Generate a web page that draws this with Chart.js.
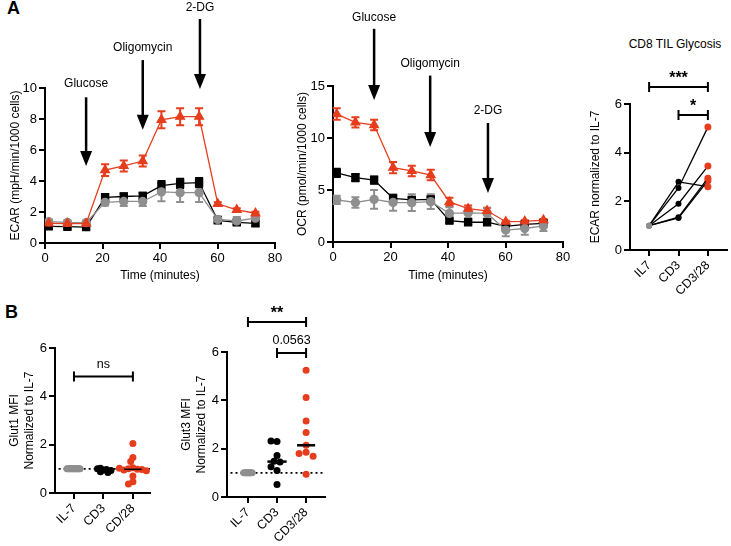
<!DOCTYPE html>
<html>
<head>
<meta charset="utf-8">
<script src="https://cdn.jsdelivr.net/npm/chart.js@4.4.0/dist/chart.umd.min.js"></script>
<style>
body{margin:0;background:#fff;width:731px;height:546px;position:relative;overflow:hidden;font-family:'Liberation Sans',Arial,Helvetica,sans-serif}
canvas{position:absolute}
.lbl{position:absolute;color:#000}
</style>
</head>
<body>
<div class="lbl" style="left:7px;top:-2px;font-size:18px;font-weight:bold">A</div>
<div class="lbl" style="left:5px;top:302px;font-size:18px;font-weight:bold">B</div>
<div class="lbl" style="left:605px;top:37px;width:140px;text-align:center;font-size:12px">CD8 TIL Glycosis</div>
<canvas id="ecar"></canvas>
<canvas id="ocr"></canvas>
<canvas id="cd8"></canvas>
<canvas id="glut1"></canvas>
<canvas id="glut3"></canvas>
<script>
// seahorse time points (minutes)
var timeMin = [1.3, 7.8, 14.3, 20.9, 27.4, 34, 40.5, 47, 53.6, 60.1, 66.7, 73.2];

// ECAR
var ecarRed = [1.27, 1.25, 1.25, 4.7, 4.97, 5.29, 7.95, 8.15, 8.15, 2.53, 2.14, 1.92];
var ecarRedErr = [0.12, 0.1, 0.1, 0.38, 0.35, 0.35, 0.55, 0.55, 0.55, 0.1, 0.1, 0.1];
var ecarBlack = [1.07, 1.05, 1.03, 2.95, 3.0, 3.04, 3.7, 3.85, 3.9, 1.46, 1.33, 1.27];
var ecarBlackErr = [0.15, 0.12, 0.12, 0.2, 0.2, 0.2, 0.3, 0.3, 0.3, 0.15, 0.15, 0.15];
var ecarGray = [1.37, 1.33, 1.32, 2.62, 2.68, 2.68, 3.3, 3.25, 3.25, 1.52, 1.42, 1.6];
var ecarGrayErr = [0.15, 0.12, 0.12, 0.2, 0.3, 0.3, 0.6, 0.6, 0.6, 0.2, 0.25, 0.3];

// OCR
var ocrRed = [12.3, 11.5, 11.25, 7.15, 6.83, 6.44, 3.85, 3.2, 3.0, 1.95, 1.98, 2.1];
var ocrRedErr = [0.55, 0.5, 0.5, 0.55, 0.5, 0.5, 0.4, 0.3, 0.3, 0.1, 0.1, 0.1];
var ocrBlack = [6.65, 6.2, 5.96, 4.2, 4.05, 4.1, 2.05, 1.9, 1.9, 1.5, 1.7, 1.8];
var ocrBlackErr = [0.4, 0.35, 0.35, 0.3, 0.25, 0.25, 0.2, 0.2, 0.2, 0.2, 0.2, 0.2];
var ocrGray = [4.05, 3.8, 4.1, 3.8, 3.78, 3.88, 2.75, 2.8, 2.75, 1.15, 1.3, 1.55];
var ocrGrayErr = [0.4, 0.5, 0.9, 0.8, 0.8, 0.7, 0.6, 0.5, 0.5, 0.6, 0.6, 0.5];

// injections
var ecarArrows = [
  {label: 'Glucose', x: 14.3, from: 9.4, to: 4.97, ly: 10.3},
  {label: 'Oligomycin', x: 34, from: 11.8, to: 7.3, ly: 12.6},
  {label: '2-DG', x: 53.9, from: 14.45, to: 9.94, ly: 15.2}
];
var ocrArrows = [
  {label: 'Glucose', x: 14.3, from: 20.5, to: 13.65, ly: 21.6},
  {label: 'Oligomycin', x: 33.8, from: 16, to: 9.13, ly: 17.1},
  {label: '2-DG', x: 53.9, from: 11.44, to: 4.7, ly: 12.6}
];

// CD8 TIL glycolysis, one entry per donor
var cd8Cats = ['IL7', 'CD3', 'CD3/28'];
var cd8IL7 = [1, 1, 1, 1, 1];
var cd8CD3 = [2.8, 2.55, 1.9, 1.35, 1.32];
var cd8CD328 = [2.6, 5.05, 3.45, 2.95, 2.85];

// Glut1 / Glut3
var glut1Cats = ['IL-7', 'CD3', 'CD/28'];
var glut1IL7 = [1, 1, 1, 1, 1, 1, 1, 1, 1, 1, 1, 1, 1, 1];
var glut1CD3 = [0.95, 1.02, 0.88, 0.97, 1.0, 0.85, 0.93];
var glut1CD28 = [2.05, 1.47, 1.3, 1.05, 1.0, 0.98, 0.95, 0.97, 1.02, 0.92, 0.7, 0.47, 0.37];

var glut3Cats = ['IL-7', 'CD3', 'CD3/28'];
var glut3IL7 = [1, 1, 1, 1, 1, 1, 1, 1, 1];
var glut3CD3 = [2.3, 2.32, 1.72, 1.48, 1.45, 1.25, 1.1, 0.52];
var glut3CD328 = [5.25, 4.12, 3.15, 2.67, 2.14, 1.85, 1.8, 1.69, 0.94];

var RED = '#e63d1c', GRAY = '#8f8f8f', BLACK = '#000000';
var FONT = "'Liberation Sans', Arial, Helvetica, sans-serif";
Chart.defaults.font.family = FONT;
Chart.defaults.color = '#000';

// put canvas on the page and work out padding so the plot area lands where we want it
function geom(id, box, area) {
  var c = document.getElementById(id);
  c.width = box.w; c.height = box.h;
  c.style.left = box.x + 'px'; c.style.top = box.y + 'px';
  return {
    padding: {left: 0, bottom: 0, top: area.t - box.y, right: box.x + box.w - area.r},
    yw: area.l - box.x,
    xh: box.y + box.h - area.b
  };
}

function axis(extra, fit) {
  return Object.assign({
    grid: {drawOnChartArea: false, drawTicks: true, tickLength: 6, color: '#000', lineWidth: 2},
    border: {display: true, color: '#000', width: 2},
    afterFit: fit
  }, extra);
}

function median(a) {
  var s = a.slice().sort(function(p, q) { return p - q; });
  var m = Math.floor(s.length / 2);
  return s.length % 2 ? s[m] : (s[m - 1] + s[m]) / 2;
}

// simple beeswarm, offsets returned in category units
function swarm(vals, d, ppu, ppc) {
  var placed = [];
  return vals.map(function(v) {
    var py = v * ppu, off = 0;
    for (var k = 0; k < 400; k++) {
      var cand = (k % 2 ? -1 : 1) * Math.ceil(k / 2) * d * 0.5;
      var ok = placed.every(function(p) { return Math.hypot(p[0] - cand, p[1] - py) >= d; });
      if (ok) { off = cand; break; }
    }
    placed.push([off, py]);
    return off / ppc;
  });
}

var errBars = {
  id: 'errBars',
  beforeDatasetsDraw: function(chart) {
    var ctx = chart.ctx, ys = chart.scales.y;
    chart.data.datasets.forEach(function(ds, di) {
      if (!ds.err) return;
      var meta = chart.getDatasetMeta(di);
      ctx.save();
      ctx.strokeStyle = ds.borderColor;
      ctx.lineWidth = 2;
      meta.data.forEach(function(pt, i) {
        var v = ds.data[i].y, e = ds.err[i];
        var y1 = ys.getPixelForValue(v + e), y2 = ys.getPixelForValue(v - e);
        ctx.beginPath();
        ctx.moveTo(pt.x, y1); ctx.lineTo(pt.x, y2);
        ctx.moveTo(pt.x - 4, y1); ctx.lineTo(pt.x + 4, y1);
        ctx.moveTo(pt.x - 4, y2); ctx.lineTo(pt.x + 4, y2);
        ctx.stroke();
      });
      ctx.restore();
    });
  }
};

var arrows = {
  id: 'arrows',
  afterDraw: function(chart, args, opts) {
    var ctx = chart.ctx, x = chart.scales.x, y = chart.scales.y;
    (opts.items || []).forEach(function(a) {
      var px = x.getPixelForValue(a.x), top = y.getPixelForValue(a.from), tip = y.getPixelForValue(a.to);
      ctx.save();
      ctx.strokeStyle = '#000'; ctx.fillStyle = '#000';
      ctx.lineWidth = 2.5;
      ctx.beginPath(); ctx.moveTo(px, top); ctx.lineTo(px, tip - 12); ctx.stroke();
      ctx.beginPath();
      ctx.moveTo(px - 6, tip - 15); ctx.lineTo(px + 6, tip - 15); ctx.lineTo(px, tip);
      ctx.closePath(); ctx.fill();
      ctx.font = '12px ' + FONT;
      ctx.textAlign = 'center'; ctx.textBaseline = 'middle';
      ctx.fillText(a.label, px, y.getPixelForValue(a.ly));
      ctx.restore();
    });
  }
};

var brackets = {
  id: 'brackets',
  afterDraw: function(chart, args, opts) {
    var ctx = chart.ctx, x = chart.scales.x, y = chart.scales.y;
    (opts.items || []).forEach(function(b) {
      var x1 = x.getPixelForValue(b.a), x2 = x.getPixelForValue(b.b), py = y.getPixelForValue(b.y);
      var stars = /^\*+$/.test(b.text);
      ctx.save();
      ctx.strokeStyle = '#000'; ctx.fillStyle = '#000'; ctx.lineWidth = 2;
      ctx.beginPath();
      ctx.moveTo(x1, py); ctx.lineTo(x2, py);
      ctx.moveTo(x1, py - 5); ctx.lineTo(x1, py + 5);
      ctx.moveTo(x2, py - 5); ctx.lineTo(x2, py + 5);
      ctx.stroke();
      ctx.font = (stars ? 'bold 16px ' : '12.5px ') + FONT;
      ctx.textAlign = 'center'; ctx.textBaseline = 'alphabetic';
      ctx.fillText(b.text, (x1 + x2) / 2, py - (stars ? 4 : 9));
      ctx.restore();
    });
  }
};

function series(vals, err, color, style, r) {
  return {
    data: timeMin.map(function(t, i) { return {x: t, y: vals[i]}; }),
    err: err,
    borderColor: color, backgroundColor: color,
    pointBackgroundColor: color, pointBorderColor: color,
    pointStyle: style, pointRadius: r, borderWidth: 1.3
  };
}

function seahorse(id, g, sets, ymax, ystep, ytitle, ytpad, arrowItems) {
  new Chart(id, {
    type: 'line',
    data: {datasets: sets},
    options: {
      responsive: false, animation: false,
      layout: {padding: g.padding},
      plugins: {legend: {display: false}, tooltip: {enabled: false}, arrows: {items: arrowItems}},
      scales: {
        x: axis({type: 'linear', min: 0, max: 80,
          ticks: {stepSize: 20, color: '#000', font: {size: 13}, padding: 2},
          title: {display: true, text: 'Time (minutes)', color: '#000', font: {size: 12}, padding: {top: 0, bottom: 7}}
        }, function(s) { s.height = g.xh; }),
        y: axis({min: 0, max: ymax,
          ticks: {stepSize: ystep, color: '#000', font: {size: 13}, padding: 2},
          title: {display: true, text: ytitle, color: '#000', font: {size: 12}, padding: {top: ytpad, bottom: 0}}
        }, function(s) { s.width = g.yw; })
      }
    },
    plugins: [errBars, arrows]
  });
}

var g1 = geom('ecar', {x: 0, y: 0, w: 300, h: 290}, {l: 45, t: 88, r: 275, b: 243});
seahorse('ecar', g1, [
  series(ecarRed, ecarRedErr, RED, 'triangle', 5),
  series(ecarGray, ecarGrayErr, GRAY, 'circle', 4),
  series(ecarBlack, ecarBlackErr, BLACK, 'rect', 5)
], 10, 2, 'ECAR (mpH/min/1000 cells)', 8, ecarArrows);

var g2 = geom('ocr', {x: 285, y: 0, w: 300, h: 290}, {l: 333, t: 86, r: 563, b: 242});
seahorse('ocr', g2, [
  series(ocrRed, ocrRedErr, RED, 'triangle', 5),
  series(ocrGray, ocrGrayErr, GRAY, 'circle', 4),
  series(ocrBlack, ocrBlackErr, BLACK, 'rect', 5)
], 15, 5, 'OCR (pmol/min/1000 cells)', 10, ocrArrows);

function catAxis(min, max, cats, g) {
  return axis({type: 'linear', min: min, max: max,
    afterBuildTicks: function(s) { s.ticks = cats.map(function(c, i) { return {value: i}; }); },
    ticks: {color: '#000', font: {size: 12.5}, padding: 2, minRotation: 45, maxRotation: 45,
      callback: function(v) { return cats[v]; }}
  }, function(s) { s.height = g.xh; });
}

// CD8 TIL glycolysis
var g3 = geom('cd8', {x: 575, y: 30, w: 156, h: 270}, {l: 630, t: 104, r: 728, b: 250});
new Chart('cd8', {
  type: 'line',
  data: {datasets: cd8CD3.map(function(v, i) {
    return {
      data: [{x: 0, y: cd8IL7[i]}, {x: 1, y: v}, {x: 2, y: cd8CD328[i]}],
      borderColor: BLACK, borderWidth: 1.3,
      pointRadius: [3, 3, 3.5], pointBorderWidth: 0,
      pointBackgroundColor: [GRAY, BLACK, RED], pointBorderColor: [GRAY, BLACK, RED]
    };
  })},
  options: {
    responsive: false, animation: false,
    layout: {padding: g3.padding},
    plugins: {legend: {display: false}, tooltip: {enabled: false},
      brackets: {items: [{a: 0, b: 2, y: 6.7, text: '***'}, {a: 1, b: 2, y: 5.55, text: '*'}]}},
    scales: {
      x: catAxis(-0.65, 2.65, cd8Cats, g3),
      y: axis({min: 0, max: 6,
        ticks: {stepSize: 2, color: '#000', font: {size: 13}, padding: 2},
        title: {display: true, text: 'ECAR normalized to IL-7', color: '#000', font: {size: 12}, padding: {top: 13, bottom: 0}}
      }, function(s) { s.width = g3.yw; })
    }
  },
  plugins: [brackets]
});

function glutSets(groups, ppu, ppc, xmin, xmax) {
  var meds = [], pts = [];
  groups.forEach(function(gr, i) {
    var offs = swarm(gr.vals, gr.d, ppu, ppc);
    pts.push({data: gr.vals.map(function(v, j) { return {x: i + offs[j], y: v}; }),
      pointRadius: 3.5, pointBorderWidth: 0, backgroundColor: gr.color, borderColor: gr.color});
    var m = median(gr.vals);
    meds.push({data: [{x: i - gr.mw, y: m}, {x: i + gr.mw, y: m}], showLine: true,
      borderColor: gr.mc, borderWidth: gr.mlw, pointRadius: 0});
  });
  var dotted = {data: [{x: xmin, y: 1}, {x: xmax, y: 1}], showLine: true,
    borderColor: '#000', borderWidth: 1.6, borderDash: [2, 3], pointRadius: 0};
  return meds.concat(pts, [dotted]);
}

function glut(id, g, sets, cats, xmin, xmax, title, tpad, brk) {
  new Chart(id, {
    type: 'scatter',
    data: {datasets: sets},
    options: {
      responsive: false, animation: false,
      layout: {padding: g.padding},
      plugins: {legend: {display: false}, tooltip: {enabled: false}, brackets: {items: brk}},
      scales: {
        x: catAxis(xmin, xmax, cats, g),
        y: axis({min: 0, max: 6,
          ticks: {stepSize: 2, color: '#000', font: {size: 13}, padding: 2},
          title: {display: true, text: title, color: '#000', font: {size: 12, lineHeight: 1.25}, padding: {top: tpad, bottom: 0}}
        }, function(s) { s.width = g.yw; })
      }
    },
    plugins: [brackets]
  });
}

var g4 = geom('glut1', {x: 0, y: 330, w: 165, h: 216}, {l: 55, t: 348, r: 150, b: 493});
glut('glut1', g4, glutSets([
  {vals: glut1IL7, color: GRAY, d: 1, mw: 0.3, mc: GRAY, mlw: 4},
  {vals: glut1CD3, color: BLACK, d: 3, mw: 0.25, mc: BLACK, mlw: 2.5},
  {vals: glut1CD28, color: RED, d: 4.5, mw: 0.3, mc: BLACK, mlw: 1.5}
], 24.25, 29.5, -0.52, 2.58), glut1Cats, -0.644, 2.58, ['Glut1 MFI', 'Normalized to IL-7'], 7.5,
  [{a: 0, b: 2, y: 4.82, text: 'ns'}]);

var g5 = geom('glut3', {x: 165, y: 300, w: 175, h: 246}, {l: 227, t: 352, r: 325, b: 497});
glut('glut3', g5, glutSets([
  {vals: glut3IL7, color: GRAY, d: 0.9, mw: 0.25, mc: GRAY, mlw: 4},
  {vals: glut3CD3, color: BLACK, d: 6, mw: 0.33, mc: BLACK, mlw: 2.5},
  {vals: glut3CD328, color: RED, d: 7, mw: 0.31, mc: BLACK, mlw: 2.5}
], 24.2, 29, -0.6, 2.6), glut3Cats, -0.72, 2.65, ['Glut3 MFI', 'Normalized to IL-7'], 14.5,
  [{a: 0, b: 2, y: 7.24, text: '**'}, {a: 1, b: 2, y: 5.96, text: '0.0563'}]);
</script>
</body>
</html>
